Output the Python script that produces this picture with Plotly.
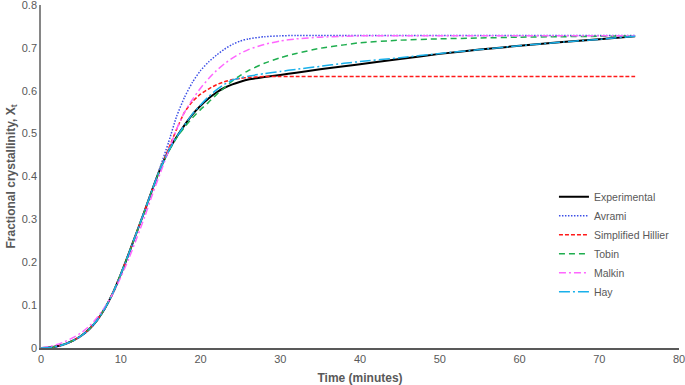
import plotly.graph_objects as go

# ---- data ----
t_exp = [0, 1, 2, 3, 4, 5, 6, 7, 8, 9, 10, 11, 12, 13, 14, 15, 16, 17, 18, 19, 20,
         21, 22, 23, 24, 25, 26, 28, 30, 32, 35, 38, 40, 45, 50, 55, 60, 65, 70, 74.5]
experimental = [0, 0.001, 0.004, 0.009, 0.017, 0.028, 0.043, 0.064, 0.092, 0.128, 0.172,
                0.22, 0.27, 0.32, 0.372, 0.42, 0.46, 0.492, 0.52, 0.545, 0.565,
                0.582, 0.596, 0.607, 0.615, 0.621, 0.626, 0.632, 0.637, 0.642, 0.65,
                0.657, 0.662, 0.674, 0.686, 0.696, 0.705, 0.713, 0.72, 0.727]

t_mod = [0, 1, 2, 3, 4, 5, 6, 7, 8, 9, 10, 11, 12, 13, 14, 15, 16, 17, 18, 19, 20,
         21, 22, 23, 24, 25, 26, 28, 30, 32, 35, 38, 40, 45, 50, 55, 60, 65, 70, 74.5]
avrami = [0, 0.001, 0.003, 0.008, 0.016, 0.027, 0.042, 0.063, 0.091, 0.126, 0.17,
          0.218, 0.268, 0.32, 0.372, 0.425, 0.48, 0.54, 0.585, 0.62, 0.647,
          0.667, 0.683, 0.697, 0.708, 0.716, 0.721, 0.726, 0.728, 0.729, 0.729,
          0.729, 0.729, 0.729, 0.729, 0.729, 0.729, 0.729, 0.729, 0.729]
hillier = [0, 0.001, 0.004, 0.009, 0.017, 0.028, 0.043, 0.064, 0.092, 0.128, 0.172,
           0.22, 0.27, 0.32, 0.372, 0.42, 0.465, 0.51, 0.55, 0.575, 0.592,
           0.604, 0.614, 0.621, 0.626, 0.629, 0.631, 0.633, 0.633, 0.633, 0.633,
           0.633, 0.633, 0.633, 0.633, 0.633, 0.633, 0.633, 0.633, 0.633]
tobin = [0, 0.001, 0.004, 0.009, 0.017, 0.028, 0.043, 0.064, 0.092, 0.128, 0.172,
         0.22, 0.27, 0.32, 0.372, 0.42, 0.458, 0.49, 0.515, 0.537, 0.556,
         0.573, 0.591, 0.607, 0.623, 0.636, 0.647, 0.664, 0.677, 0.687, 0.699,
         0.707, 0.712, 0.718, 0.721, 0.723, 0.725, 0.726, 0.727, 0.728]
malkin = [0, 0.003, 0.008, 0.015, 0.024, 0.035, 0.05, 0.07, 0.095, 0.127, 0.165,
          0.208, 0.256, 0.306, 0.36, 0.41, 0.46, 0.51, 0.55, 0.58, 0.606,
          0.628, 0.647, 0.663, 0.676, 0.687, 0.696, 0.708, 0.716, 0.721, 0.725,
          0.727, 0.728, 0.728, 0.728, 0.728, 0.728, 0.728, 0.728, 0.728]
hay = [0, 0.001, 0.004, 0.009, 0.017, 0.028, 0.043, 0.064, 0.092, 0.128, 0.172,
       0.22, 0.27, 0.32, 0.372, 0.42, 0.46, 0.492, 0.52, 0.546, 0.567,
       0.586, 0.602, 0.615, 0.625, 0.63, 0.634, 0.64, 0.645, 0.65, 0.657,
       0.664, 0.668, 0.677, 0.687, 0.696, 0.705, 0.713, 0.72, 0.727]

x_ticks = [0, 10, 20, 30, 40, 50, 60, 70, 80]
y_ticks = [0, 0.1, 0.2, 0.3, 0.4, 0.5, 0.6, 0.7, 0.8]
y_tick_text = ["0", "0.1", "0.2", "0.3", "0.4", "0.5", "0.6", "0.7", "0.8"]

# ---- figure ----
fig = go.Figure()
series = [
    ("Experimental", t_exp, experimental, "#000000", "solid", 2),
    ("Avrami", t_mod, avrami, "#3c4fe6", "1.5px,1.5px", 1.5),
    ("Simplified Hillier", t_mod, hillier, "#ff1a1a", "4px,2px", 1.5),
    ("Tobin", t_mod, tobin, "#1fae4f", "6px,4px", 1.5),
    ("Malkin", t_mod, malkin, "#ff66ff", "7px,3px,2px,3px", 1.5),
    ("Hay", t_mod, hay, "#19b0ea", "11px,3px,2px,3px", 1.5),
]
for name, xs, ys, color, dash, w in series:
    fig.add_trace(go.Scatter(x=xs, y=ys, name=name, mode="lines",
                             line=dict(color=color, dash=dash, width=w, shape="spline", smoothing=0.6)))

font_family = "Liberation Sans, Arial, sans-serif"
fig.update_layout(
    width=685, height=385,
    margin=dict(l=41, r=6, t=5, b=37),
    paper_bgcolor="white", plot_bgcolor="white",
    font=dict(family=font_family, size=11, color="#595959"),
    showlegend=True,
    legend=dict(x=0.804, y=0.483, xanchor="left", yanchor="top",
                font=dict(size=10.5, color="#595959"), bgcolor="rgba(0,0,0,0)",
                tracegroupgap=0, itemwidth=30),
    xaxis=dict(range=[0, 80], tickvals=x_ticks, showgrid=False, zeroline=False,
               showline=True, linecolor="#595959", linewidth=1.5, ticks="",
               automargin=False, ticklabeloverflow="allow",
               title=dict(text="<b>Time (minutes)</b>", font=dict(size=12, color="#595959"), standoff=10)),
    yaxis=dict(range=[0, 0.8], tickvals=y_ticks, ticktext=y_tick_text, showgrid=False,
               zeroline=False, showline=True, linecolor="#868686", linewidth=1.5, ticks="",
               automargin=False, ticklabeloverflow="allow",
               title=dict(text="<b>Fractional crystallinity, X<sub>t</sub></b>",
                          font=dict(size=12, color="#595959"), standoff=4)),
)
fig.write_html("out.html", config={"displayModeBar": False},
               post_script="document.body.style.margin='0';document.body.style.padding='0';document.body.style.overflow='hidden';")
